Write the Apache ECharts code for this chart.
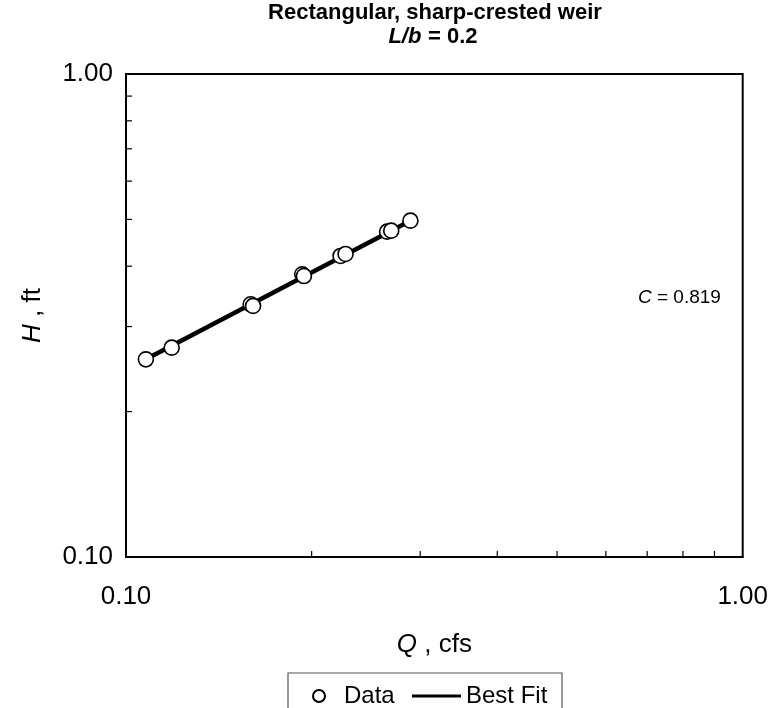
<!DOCTYPE html>
<html>
<head>
<meta charset="utf-8">
<script src="https://cdn.jsdelivr.net/npm/echarts@6/dist/echarts.min.js"></script>
<style>
body{margin:0;background:#fff;}
#main{width:771px;height:708px;}
</style>
</head>
<body>
<div id="main"></div>
<script>
// measured points, Q (cfs) and H (ft)
var dataQ=[0.1077,0.1186,0.1593,0.1607,0.1931,0.1943,0.2228,0.2270,0.2651,0.2692,0.2892];
var dataH=[0.2566,0.2713,0.3336,0.3310,0.3848,0.3817,0.4200,0.4240,0.4716,0.4739,0.4970];
// best fit line ends
var fitQ=[0.1077,0.2892];
var fitH=[0.2566,0.4970];
// minor ticks for both log axes
var minorTicks=[0.2,0.3,0.4,0.5,0.6,0.7,0.8,0.9];
var coefC='0.819';

var font='"Liberation Sans", Arial, sans-serif';
var scatterData=[],fitData=[],xTicks=[],yTicks=[];
for(var i=0;i<dataQ.length;i++){
	scatterData.push([dataQ[i],dataH[i]]);
}
for(var i=0;i<fitQ.length;i++){
	fitData.push([fitQ[i],fitH[i]]);
}
for(var i=0;i<minorTicks.length;i++){
	xTicks.push([minorTicks[i],0.1]);
	yTicks.push([0.1,minorTicks[i]]);
}

function tickItem(dir){
	return function(params,api){
		var p=api.coord([api.value(0),api.value(1)]);
		var x2=p[0],y2=p[1];
		if(dir=='x'){y2=p[1]-6;}else{x2=p[0]+6;}
		return {
			type:'line',
			shape:{x1:p[0],y1:p[1],x2:x2,y2:y2},
			style:{stroke:'#000',lineWidth:1.2}
		};
	};
}

var myChart=echarts.init(document.getElementById('main'),null,{renderer:'canvas'});
var option={
	backgroundColor:'#fff',
	animation:false,
	textStyle:{fontFamily:font},
	grid:{left:126,right:26,top:74,bottom:151,show:true,borderColor:'#000',borderWidth:2,backgroundColor:'#fff'},
	xAxis:{
		type:'log',logBase:10,min:0.1,max:1,
		name:'{i|Q} , cfs',nameLocation:'middle',nameGap:75,
		nameTextStyle:{fontSize:26,color:'#000',fontFamily:font,rich:{i:{fontStyle:'italic',fontSize:26,fontFamily:font,color:'#000'}}},
		axisLine:{lineStyle:{color:'#000',width:2}},
		axisTick:{show:false},
		splitLine:{show:false},
		axisLabel:{fontSize:26,color:'#000',margin:27,fontFamily:font,formatter:function(v){return v.toFixed(2);}}
	},
	yAxis:{
		type:'log',logBase:10,min:0.1,max:1,
		name:'{i|H} , ft',nameLocation:'middle',nameGap:80,nameRotate:90,
		nameTextStyle:{fontSize:26,color:'#000',fontFamily:font,rich:{i:{fontStyle:'italic',fontSize:26,fontFamily:font,color:'#000'}}},
		axisLine:{lineStyle:{color:'#000',width:2}},
		axisTick:{show:false},
		splitLine:{show:false},
		axisLabel:{fontSize:26,color:'#000',margin:13,fontFamily:font,formatter:function(v){return v.toFixed(2);}}
	},
	legend:[{
		data:[{name:'Data',icon:'circle'}],
		left:307,top:679,itemWidth:12,itemHeight:12,itemGap:0,
		textStyle:{fontSize:24,color:'#000',fontFamily:font,padding:[0,0,0,14]}
	},{
		data:[{name:'Best Fit',icon:'rect'}],
		left:407,top:679,itemWidth:49,itemHeight:3,itemGap:0,
		textStyle:{fontSize:24,color:'#000',fontFamily:font,padding:[0,0,0,0]}
	}],
	graphic:[
		{type:'text',style:{x:435,y:13,text:'Rectangular, sharp-crested weir',textAlign:'center',textVerticalAlign:'middle',font:'bold 22px '+font,fill:'#000'}},
		{type:'text',style:{x:433,y:37,text:'{bi|L/b}  {b|= 0.2}',textAlign:'center',textVerticalAlign:'middle',
			rich:{bi:{fontWeight:'bold',fontStyle:'italic',fontSize:22,fontFamily:font,fill:'#000'},b:{fontWeight:'bold',fontSize:22,fontFamily:font,fill:'#000'}}}},
		{type:'text',style:{x:638,y:298,text:'{i|C} = '+coefC,textAlign:'left',textVerticalAlign:'middle',
			rich:{i:{fontStyle:'italic',fontSize:19,fontFamily:font,fill:'#000'}},font:'19px '+font,fill:'#000'}},
		{type:'rect',shape:{x:288,y:673,width:274,height:60},style:{fill:'none',stroke:'#555',lineWidth:1.2},z:1}
	],
	series:[{
		name:'Best Fit',type:'line',data:fitData,showSymbol:false,symbol:'none',
		lineStyle:{color:'#000',width:4.5},itemStyle:{color:'#000'},z:2
	},{
		name:'Data',type:'scatter',data:scatterData,symbol:'circle',symbolSize:15,
		itemStyle:{color:'#fff',borderColor:'#000',borderWidth:1.6,opacity:1},z:3
	},{
		type:'custom',data:xTicks,renderItem:tickItem('x'),silent:true,z:1
	},{
		type:'custom',data:yTicks,renderItem:tickItem('y'),silent:true,z:1
	}]
};
myChart.setOption(option);
</script>
</body>
</html>
